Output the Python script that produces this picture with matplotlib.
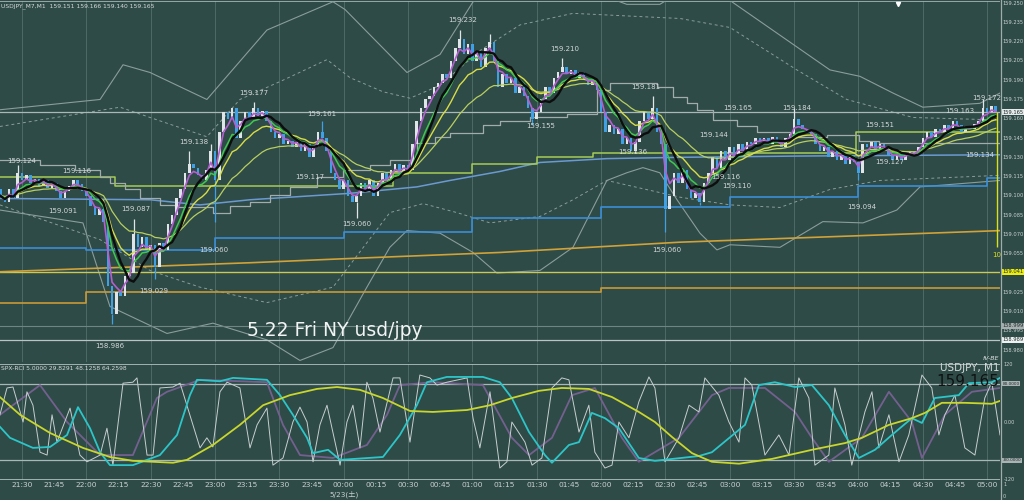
import numpy as np
import pandas as pd
import matplotlib
matplotlib.use("Agg")
import matplotlib.pyplot as plt
import matplotlib.transforms as mtransforms
from matplotlib.lines import Line2D

# ---------------- data (time = minutes after 21:30, 2-minute bars) ----------------
first_bar = -10
bar_minutes = 2
open0 = 159.105
closes = [
    159.100, 159.095, 159.105, 159.098, 159.118, 159.112, 159.116, 159.110, 159.113, 159.108,
    159.112, 159.106, 159.110, 159.104, 159.098, 159.104, 159.108, 159.112, 159.109, 159.104,
    159.100, 159.092, 159.085, 159.090, 159.080, 159.030, 159.008, 159.025, 159.022, 159.038,
    159.040, 159.070, 159.060, 159.068, 159.058, 159.062, 159.045, 159.063, 159.058, 159.078,
    159.085, 159.098, 159.105, 159.118, 159.125, 159.122, 159.116, 159.112, 159.120, 159.135,
    159.112, 159.150, 159.165, 159.160, 159.168, 159.145, 159.158, 159.165, 159.160, 159.168,
    159.162, 159.166, 159.158, 159.150, 159.145, 159.148, 159.140, 159.143, 159.138, 159.142,
    159.135, 159.140, 159.130, 159.138, 159.150, 159.145, 159.135, 159.118, 159.112, 159.105,
    159.112, 159.100, 159.095, 159.100, 159.110, 159.105, 159.112, 159.100, 159.110, 159.118,
    159.112, 159.120, 159.125, 159.118, 159.124, 159.120, 159.140, 159.158, 159.168, 159.175,
    159.178, 159.185, 159.188, 159.195, 159.192, 159.205, 159.215, 159.222, 159.210, 159.218,
    159.205, 159.212, 159.200, 159.215, 159.220, 159.205, 159.185, 159.195, 159.188, 159.192,
    159.180, 159.185, 159.178, 159.168, 159.160, 159.165, 159.175, 159.185, 159.180, 159.192,
    159.196, 159.200, 159.195, 159.198, 159.192, 159.196, 159.190, 159.186, 159.190, 159.182,
    159.165, 159.150, 159.155, 159.148, 159.152, 159.140, 159.145, 159.135, 159.142, 159.158,
    159.165, 159.160, 159.168, 159.150, 159.140, 159.090, 159.100, 159.118, 159.110, 159.120,
    159.105, 159.098, 159.102, 159.095, 159.110, 159.118, 159.130, 159.122, 159.135, 159.128,
    159.138, 159.130, 159.140, 159.135, 159.142, 159.140, 159.145, 159.143, 159.145, 159.140,
    159.146, 159.142, 159.138, 159.145, 159.148, 159.160, 159.155, 159.152, 159.150, 159.148,
    159.140, 159.135, 159.138, 159.130, 159.135, 159.128, 159.132, 159.125, 159.130, 159.126,
    159.118, 159.140, 159.138, 159.142, 159.136, 159.140, 159.138, 159.132, 159.128, 159.132,
    159.128, 159.132, 159.135, 159.132, 159.138, 159.145, 159.150, 159.146, 159.152, 159.150,
    159.155, 159.152, 159.158, 159.155, 159.150, 159.154, 159.152, 159.156, 159.158, 159.168,
    159.165, 159.170, 159.165,
]
wick_high = {4: 159.124, 31: 159.082, 44: 159.135, 49: 159.140, 59: 159.173, 75: 159.158,
             107: 159.229, 114: 159.226, 131: 159.207, 152: 159.178, 185: 159.168, 229: 159.175}
wick_low = {26: 159.000, 36: 159.035, 50: 159.080, 83: 159.083, 124: 159.155, 148: 159.133,
            155: 159.072, 163: 159.093, 200: 159.112}

# zigzag price labels
zz_times = [0.0, 25.6, 19.1, 53.1, 89.5, 61.5, 41.0, 80.2, 108.2, 139.9, 134.3, 156.2, 205.6, 242.0,
            253.1, 290.9, 284.9, 300.7, 333.8, 322.6, 328.2, 333.3, 361.3, 400.0, 391.6, 404.7,
            437.3, 449.9, 446.6]
zz_prices = [159.127, 159.119, 159.088, 159.090, 159.058, 159.026, 158.983, 159.142, 159.180, 159.164,
             159.115, 159.078, 159.237, 159.154, 159.214, 159.185, 159.134, 159.058, 159.168, 159.147,
             159.115, 159.108, 159.168, 159.155, 159.091, 159.126, 159.166, 159.176, 159.132]
zz_texts = ["159.124", "159.116", "159.091", "159.087", "159.060", "159.029", "158.986", "159.138",
            "159.177", "159.161", "159.117", "159.060", "159.232", "159.155", "159.210", "159.181",
            "159.136", "159.060", "159.165", "159.144", "159.116", "159.110", "159.184", "159.151",
            "159.094", "159.127", "159.163", "159.172", "159.134"]

# slow overlays (time, price)
blue_ma_t = [-10.3, 59.7, 83.0, 106.3, 152.9, 184.1, 199.5, 222.8, 241.5, 272.7, 306.8, 362.7, 456.0]
blue_ma_p = [159.098, 159.097, 159.093, 159.097, 159.102, 159.107, 159.112, 159.119, 159.126, 159.129,
             159.130, 159.131, 159.132]
orange_ma_t = [-10.3, 106.3, 148.3, 222.8, 306.8, 456.0]
orange_ma_p = [159.041, 159.048, 159.051, 159.056, 159.064, 159.073]
yellow_level = 159.041
orange_step_t = [-10.3, 30, 270, 456.0]
orange_step_p = [159.017, 159.025, 159.028, 159.028]
blue_step_t = [-10.3, 30, 90, 150, 210, 270, 330, 390, 450, 456.0]
blue_step_p = [159.0595, 159.058, 159.067, 159.072, 159.083, 159.091, 159.099, 159.108, 159.114, 159.114]
green_step_t = [-10.3, 43.4, 173.0, 210.0, 240.0, 266.0, 389.0, 456.0]
green_step_p = [159.115, 159.108, 159.118, 159.125, 159.130, 159.133, 159.150, 159.150]
grey_step_t = [-10.3, 8.4, 24.7, 36.4, 41.0, 48.0, 55.0, 64.3, 71.3, 89.0, 97.0, 106.3, 115.6, 124.9,
               137.5, 149.6, 162.2, 171.5, 184.1, 192.5, 199.5, 214.9, 222.8, 236.8, 254.1, 268.1,
               274.1, 296.0, 303.5, 310.0, 314.7, 322.1, 333.3, 342.7, 358.0, 375.3, 390.2, 399.6, 456.0]
grey_step_p = [159.128, 159.124, 159.120, 159.115, 159.110, 159.105, 159.098, 159.093, 159.091, 159.087,
               159.092, 159.095, 159.101, 159.107, 159.115, 159.120, 159.124, 159.128, 159.141, 159.146,
               159.149, 159.155, 159.158, 159.161, 159.164, 159.182, 159.188, 159.185, 159.177, 159.172,
               159.167, 159.159, 159.154, 159.150, 159.146, 159.147, 159.143, 159.141, 159.141]
bb_up_t = [-10.3, 36.4, 47.1, 59.7, 86.2, 114.2, 145.0, 150.6, 179.5, 194.9, 210.3, 250.8, 282.0, 297.4,
           316.1, 330.1, 376.7, 390.7, 406.1, 420.0, 446.6, 456.0]
bb_up_p = [159.167, 159.175, 159.202, 159.196, 159.175, 159.229, 159.251, 159.245, 159.196, 159.210,
           159.251, 159.268, 159.249, 159.249, 159.268, 159.252, 159.198, 159.193, 159.180, 159.169,
           159.172, 159.180]
bb_upd_t = [-10.3, 45.7, 59.7, 86.2, 101.6, 121.7, 142.2, 152.9, 168.3, 180.9, 194.9, 213.5, 232.2, 256.9,
            306.8, 330.1, 361.3, 384.6, 415.4, 456.0]
bb_upd_p = [159.154, 159.169, 159.161, 159.146, 159.175, 159.190, 159.206, 159.192, 159.181, 159.176,
            159.186, 159.213, 159.233, 159.242, 159.238, 159.231, 159.198, 159.175, 159.161, 159.159]
bb_lo_t = [-10.3, 28.4, 41.0, 67.6, 89.0, 114.2, 129.6, 145.0, 160.8, 171.5, 179.5, 194.9, 210.3, 221.4,
           241.5, 256.9, 272.7, 282.0, 289.5, 297.4, 305.4, 316.1, 324.0, 330.1, 353.4, 373.4, 392.1,
           407.9, 418.7, 456.0]
bb_lo_p = [159.089, 159.079, 159.014, 158.993, 159.001, 158.988, 158.972, 158.982, 159.029, 159.060,
           159.073, 159.071, 159.056, 159.040, 159.042, 159.060, 159.112, 159.118, 159.122, 159.118,
           159.097, 159.071, 159.058, 159.062, 159.060, 159.080, 159.079, 159.089, 159.107, 159.112]
bb_lod_t = [-10.3, 36.4, 59.7, 83.0, 114.2, 145.0, 171.5, 187.0, 202.8, 218.2, 241.5, 256.9, 272.7,
            306.8, 330.1, 353.4, 376.7, 400.0, 456.0]
bb_lod_p = [159.093, 159.066, 159.042, 159.029, 159.017, 159.029, 159.087, 159.094, 159.087, 159.079,
            159.084, 159.097, 159.112, 159.099, 159.093, 159.091, 159.105, 159.112, 159.116]
bid_price = 159.165
low_lines = [158.999, 158.988]
cursor_t, cursor_top, cursor_bottom = 454.6, 159.165, 159.060

# RCI indicator lines (time, value)
rci_yel_t = [-10.3, -0.9, 13.1, 28.4, 41.0, 51.7, 70.4, 76.9, 89.0, 101.6, 112.4, 124.9, 137.5, 146.9,
             157.6, 168.3, 180.9, 191.6, 207.5, 218.2, 228.4, 241.0, 251.7, 264.3, 275.1, 287.6, 295.1,
             303.0, 312.4, 321.7, 334.3, 349.7, 368.3, 383.7, 391.6, 404.2, 414.9, 421.0, 428.9, 439.6,
             452.2, 456.0]
rci_yel_v = [52, 15, -23, -54, -73, -81, -85, -79, -48, -6, 35, 56, 69, 73, 67, 50, 23, 21, 25, 35, 50,
             65, 71, 69, 52, 21, 0, -31, -65, -83, -87, -77, -58, -44, -33, -6, 8, 19, 40, 40, 38, 44]
rci_cyan_t = [-10.3, -5.6, 5.1, 13.1, 21.0, 26.1, 31.7, 36.4, 41.0, 51.7, 64.3, 72.3, 78.3, 81.6, 92.3,
              98.4, 114.2, 120.3, 126.3, 132.9, 135.7, 142.7, 148.3, 168.3, 176.2, 184.1, 188.8, 198.1,
              214.9, 222.8, 228.4, 236.4, 243.8, 247.1, 255.0, 259.7, 265.7, 271.8, 278.3, 287.6, 295.1,
              315.6, 321.7, 337.1, 343.6, 351.0, 360.4, 368.3, 376.2, 383.7, 390.2, 397.7, 405.6, 414.9,
              419.6, 425.6, 436.8, 441.5, 452.2, 456.0]
rci_cyan_v = [-10, -33, -54, -52, -27, 31, -13, -63, -90, -90, -69, -27, 56, 88, 85, 92, 88, 56, 15, -33,
              -65, -58, -79, -73, -27, 35, 83, 94, 94, 83, 50, -21, -69, -85, -48, -42, 19, 8, -13, -75,
              -81, -71, -63, -6, 77, 83, 73, 77, 35, -27, -75, -58, -27, 8, -2, 50, 56, 81, 83, 92]
rci_purple_t = [-10.3, 8.4, 21.0, 36.4, 51.7, 62.9, 67.6, 83.0, 114.2, 121.7, 129.6, 145.0, 160.8, 170.2,
                176.2, 191.6, 214.9, 228.4, 236.4, 247.1, 256.4, 267.1, 279.7, 287.6, 306.3, 321.7, 329.6,
                346.4, 360.4, 368.3, 376.2, 391.6, 404.2, 414.9, 419.6, 430.3, 442.9, 456.0]
rci_purple_v = [15, 77, 0, -69, -69, 50, 63, 88, 83, -6, -69, -75, -48, 15, 77, 83, 77, -33, -69, -33,
                56, 71, -33, -83, -33, 56, 71, 71, 21, -33, -83, -33, 63, 0, -75, 15, 63, 71]
rci_white_t = [-10.3, -7.0, -4.2, 0.5, 2.3, 5.1, 8.4, 11.7, 14.0, 16.3, 22.4, 27.0, 30.3, 36.4, 39.6, 42.4,
               47.1, 51.7, 53.6, 58.3, 61.1, 64.3, 70.4, 73.7, 83.0, 86.2, 89.0, 92.3, 95.6, 101.6, 106.3,
               109.6, 114.2, 117.0, 121.7, 126.3, 129.6, 132.9, 135.7, 138.9, 142.2, 148.3, 151.5, 154.3,
               157.6, 160.8, 163.6, 166.9, 173.0, 176.2, 180.9, 185.5, 190.2, 193.5, 198.1, 207.5, 210.3,
               213.5, 218.2, 222.8, 226.1, 228.4, 234.5, 237.8, 242.4, 247.1, 251.7, 255.0, 259.7, 264.3,
               267.1, 271.8, 275.1, 278.3, 283.0, 287.6, 292.3, 295.1, 299.8, 306.3, 311.0, 315.6, 318.4,
               324.9, 329.6, 334.3, 337.1, 340.3, 346.4, 352.9, 357.6, 362.2, 366.9, 369.7, 376.2, 379.0,
               383.7, 386.9, 393.0, 396.3, 399.5, 404.2, 408.9, 413.5, 419.6, 424.2, 427.5, 430.3, 435.0,
               439.6, 444.3, 448.9, 452.2, 456.0]
rci_white_v = [15, 71, 73, 0, 63, 35, -63, -69, 15, -42, 29, -69, -83, -69, -13, -90, 81, 83, 92, -69,
               -69, 71, 73, 81, -54, -33, -52, 63, 83, 71, -54, -6, 29, -90, -75, 0, 31, 0, -83, -6, 35,
               -90, 0, 35, -54, 83, 50, -21, 92, 92, -42, 98, 92, 77, 83, 92, 8, -54, 63, -96, -83, 0,
               -42, -90, -75, 71, 92, 88, -21, 35, -63, -96, -90, 0, -33, 42, 94, 71, -83, -33, 35, 21,
               92, 56, 0, -42, 92, 77, -69, -27, -69, 92, 50, -90, -69, 71, -6, -90, 21, 63, -54, 15,
               -83, -27, 98, 71, -27, 15, 56, -54, -69, 50, 83, -27]

time_ticks = [0, 15, 30, 45, 60, 75, 90, 105, 120, 135, 150, 165, 180, 195, 210, 225, 240, 255, 270,
              285, 300, 315, 330, 345, 360, 375, 390, 405, 420, 435, 450]
time_labels = ["21:30", "21:45", "22:00", "22:15", "22:30", "22:45", "23:00", "23:15", "23:30", "23:45",
               "00:00", "00:15", "00:30", "00:45", "01:00", "01:15", "01:30", "01:45", "02:00", "02:15",
               "02:30", "02:45", "03:00", "03:15", "03:30", "03:45", "04:00", "04:15", "04:30", "04:45",
               "05:00"]
grid_times = [0, 30, 60, 90, 120, 150, 180, 210, 240, 270, 300, 330, 360, 390, 420, 450]
price_ticks = [159.250, 159.235, 159.220, 159.205, 159.190, 159.175, 159.160, 159.145, 159.130,
               159.115, 159.100, 159.085, 159.070, 159.055, 159.025, 159.010, 158.995, 158.980]
rci_ticks = [120, 0, -120]
rci_tick_labels = ["120", "0.00", "-120"]

# ---------------- style ----------------
BG = "#2e4b47"
GRIDC = "#4d6a66"
TXT = "#c9d1d1"
XMIN, XMAX = -10.26, 456.0
AXFS = 3.7

fig = plt.figure(figsize=(10.24, 5.0), dpi=100, facecolor=BG)
ax1 = fig.add_axes([0, 1 - 362 / 500, 1000 / 1024, 361 / 500])
ax2 = fig.add_axes([0, 1 - 480 / 500, 1000 / 1024, 116 / 500])
for ax in (ax1, ax2):
    ax.set_facecolor(BG)
    ax.set_xlim(XMIN, XMAX)
    for s in ax.spines.values():
        s.set_visible(False)
    ax.set_yticks([])
    for g in grid_times:
        ax.axvline(g, color=GRIDC, lw=0.7, zorder=0)
ax1.set_ylim(158.9708, 159.2516)
ax1.set_xticks([])
ax2.set_ylim(-121, 121)

# ---------- main panel overlays ----------
ax1.axhline(ax1.get_ylim()[1], color="#a9b6b6", lw=1.2, zorder=1)
ax1.plot(bb_up_t, bb_up_p, color="#8a9d9b", lw=0.8, zorder=1)
ax1.plot(bb_lo_t, bb_lo_p, color="#8a9d9b", lw=0.8, zorder=1)
ax1.plot(bb_upd_t, bb_upd_p, color="#8a9d9b", lw=0.7, ls=(0, (3, 3)), zorder=1)
ax1.plot(bb_lod_t, bb_lod_p, color="#8a9d9b", lw=0.7, ls=(0, (3, 3)), zorder=1)
ax1.axhline(bid_price, color="#aab7b7", lw=0.9, zorder=1)
ax1.axhline(low_lines[0], color="#6e8582", lw=0.8, zorder=1)
ax1.axhline(low_lines[1], color="#b9c5c5", lw=0.9, zorder=1)
ax1.axhline(yellow_level, color="#c9c95a", lw=1.0, zorder=2)
ax1.plot(orange_ma_t, orange_ma_p, color="#d0a238", lw=1.2, zorder=2)
ax1.plot(orange_step_t, orange_step_p, color="#c99a35", lw=1.2, drawstyle="steps-post", zorder=2)
ax1.plot(blue_step_t, blue_step_p, color="#3b8fd8", lw=1.2, drawstyle="steps-post", zorder=2)
ax1.plot(blue_ma_t, blue_ma_p, color="#6b9ad2", lw=1.1, zorder=2)
ax1.plot(green_step_t, green_step_p, color="#a8cc55", lw=1.1, drawstyle="steps-post", zorder=2)
ax1.plot(grey_step_t, grey_step_p, color="#a2adab", lw=0.9, drawstyle="steps-post", zorder=2)

# ---------- candles ----------
n = len(closes)
times = np.array([first_bar + bar_minutes * i for i in range(n)], dtype=float)
c = np.array(closes)
o = np.array([open0] + closes[:-1])
up = c >= o
bottoms = np.minimum(o, c)
heights = np.maximum(np.abs(c - o), 0.0007)
colors = np.where(up, "#dfe5e8", "#3fa0e6")
ax1.bar(times, heights, bottom=bottoms, width=1.2, color=colors, linewidth=0, zorder=3)
for k, h in wick_high.items():
    ax1.vlines(times[k], max(o[k], c[k]), h, color=colors[k], lw=0.9, zorder=3)
for k, l in wick_low.items():
    ax1.vlines(times[k], l, min(o[k], c[k]), color=colors[k], lw=0.9, zorder=3)

# ---------- moving averages ----------
s = pd.Series(c)
ax1.plot(times, s.ewm(span=25, adjust=False).mean(), color="#b9cf5f", lw=0.9, zorder=4)
ax1.plot(times, s.ewm(span=12, adjust=False).mean(), color="#d9dd45", lw=1.0, zorder=4)
ax1.plot(times, s.ewm(span=7, adjust=False).mean(), color="#3fc84e", lw=1.1, zorder=4)
ax1.plot(times, s.ewm(span=3, adjust=False).mean(), color="#b35fd0", lw=1.2, zorder=4)
ax1.plot(times, s.rolling(7, min_periods=1).mean(), color="#0d0d0d", lw=1.7, zorder=5)

# cursor marker
ax1.vlines(cursor_t, cursor_bottom, cursor_top, color="#d8e020", lw=1.0, zorder=5)
ax1.text(cursor_t, cursor_bottom - 0.006, "10", color="#d8e020", fontsize=5, ha="center", va="center")
ax1.plot([408.4], [159.249], marker="v", color="white", ms=3, zorder=6, clip_on=False)

# zigzag labels
for t, p, tx in zip(zz_times, zz_prices, zz_texts):
    ax1.text(t, p, tx, fontsize=5, color="#d4d9d9", ha="center", va="center", zorder=6)

# price axis
tr1 = mtransforms.blended_transform_factory(ax1.transAxes, ax1.transData)
for v in price_ticks:
    ax1.text(1.0025, v, f"{v:.3f}", transform=tr1, fontsize=AXFS, color=TXT, ha="left", va="center",
             clip_on=False)
box_specs = [(bid_price, "159.165", "#e6eaea"), (yellow_level, "159.041", "#ecee10"),
             (low_lines[0], "158.999", "#a7afaf"), (low_lines[1], "158.989", "#eef2f2")]
for v, tx, fc in box_specs:
    ax1.text(1.0025, v, tx, transform=tr1, fontsize=AXFS, color="#1f2a2a", ha="left", va="center",
             clip_on=False, bbox=dict(boxstyle="square,pad=0.12", fc=fc, ec="none"))

# ---------- indicator panel ----------
ax2.axhline(80, color="#a7b7b7", lw=0.9, zorder=1)
ax2.axhline(-80, color="#a7b7b7", lw=0.9, zorder=1)
ax2.axhline(120.5, color="#b5c2c2", lw=1.2, zorder=1)
ax2.axhline(-120.5, color="#b5c2c2", lw=1.2, zorder=1)
ax2.plot(rci_purple_t, rci_purple_v, color="#74608f", lw=1.3, zorder=2)
ax2.plot(rci_white_t, rci_white_v, color="#c6cfcf", lw=0.7, zorder=3)
ax2.plot(rci_cyan_t, rci_cyan_v, color="#2cc6c9", lw=1.3, zorder=4)
ax2.plot(rci_yel_t, rci_yel_v, color="#c9d62c", lw=1.3, zorder=4)

ax2.set_xticks(time_ticks)
ax2.set_xticklabels(time_labels)
ax2.tick_params(axis="x", length=0, pad=1.2, labelsize=5.4, labelcolor=TXT)

tr2 = mtransforms.blended_transform_factory(ax2.transAxes, ax2.transData)
for v, tx in zip(rci_ticks, rci_tick_labels):
    ax2.text(1.004, v, tx, transform=tr2, fontsize=3.6, color=TXT, ha="left", va="center", clip_on=False)
for v, tx in [(80, "80.0000"), (-80, "-80.0000")]:
    ax2.text(1.0025, v, tx, transform=tr2, fontsize=3.1, color="#1f2a2a", ha="left", va="center",
             clip_on=False, bbox=dict(boxstyle="square,pad=0.12", fc="#a9b3b3", ec="none"))

trd = mtransforms.blended_transform_factory(ax2.transData, fig.transFigure)
ax2.text(150, 1 - 494.5 / 500, "5/23(土)", transform=trd, fontsize=5.2, color=TXT, ha="center",
         va="center", family=["DejaVu Sans", "Noto Sans CJK JP"])

# ---------- figure texts ----------
fig.text(0.001, 1 - 6 / 500, "USDJPY_M7,M1  159.151 159.166 159.140 159.165", fontsize=4.3,
         color="#d6dcdc", ha="left", va="center")
fig.text(0.001, 1 - 368 / 500, "SPX-RCI 5.0000 29.8291 48.1258 64.2598", fontsize=4.3,
         color="#d6dcdc", ha="left", va="center")
fig.text(247 / 1024, 1 - 330 / 500, "5.22 Fri NY usd/jpy", fontsize=13.5, color="#f2f4f4",
         ha="left", va="center")
fig.text(999 / 1024, 1 - 368 / 500, "USDJPY, M1", fontsize=7.5, color="#d2d8d8", ha="right", va="center")
fig.text(999 / 1024, 1 - 381 / 500, "159.165", fontsize=11, color="#0e1212", ha="right", va="center")
fig.text(999 / 1024, 1 - 358 / 500, "fV-BE", fontsize=4.5, color="#e0e6e6", ha="right", va="center",
         style="italic")
fig.text(1003 / 1024, 1 - 484 / 500, "1", fontsize=3.6, color=TXT, ha="left", va="center")
fig.text(1003 / 1024, 1 - 496 / 500, "0", fontsize=3.6, color=TXT, ha="left", va="center")
fig.add_artist(Line2D([1000.5 / 1024] * 2, [0, 1], transform=fig.transFigure, color="#9fadad", lw=0.9))

fig.savefig("out.png", dpi=100, facecolor=BG)
